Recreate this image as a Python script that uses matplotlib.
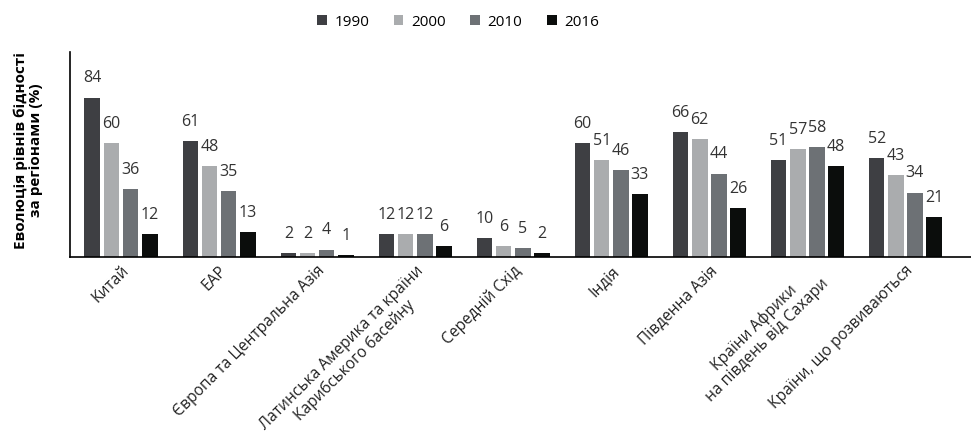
import numpy as np
import matplotlib
matplotlib.use('Agg')
import matplotlib.pyplot as plt

# Poverty rates by region (%)
regions = ['Китай', 'EAP', 'Європа та Центральна Азія',
           'Латинська Америка та країни\nКарибського басейну',
           'Середній Схід', 'Індія', 'Південна Азія',
           'Країни Африки\nна південь від Сахари',
           'Країни, що розвиваються']
years = ['1990', '2000', '2010', '2016']
v1990 = [84, 61, 2, 12, 10, 60, 66, 51, 52]
v2000 = [60, 48, 2, 12, 6, 51, 62, 57, 43]
v2010 = [36, 35, 4, 12, 5, 46, 44, 58, 34]
v2016 = [12, 13, 1, 6, 2, 33, 26, 48, 21]

COLORS = ['#3e3f43', '#aaacae', '#6d7175', '#0b0d0c']
FONT = ['Open Sans', 'DejaVu Sans']

plt.rcParams['font.family'] = FONT

fig = plt.figure(figsize=(9.71, 4.48), dpi=100)
ax = fig.add_axes([70 / 971., 0.426, 1 - 70 / 971., 0.458])

x = np.arange(len(regions))
step = 0.195
width = 0.16
series = [v1990, v2000, v2010, v2016]
for i, (vals, col, yr) in enumerate(zip(series, COLORS, years)):
    pos = x + (i - 1.5) * step
    ax.bar(pos, vals, width, color=col, label=yr)
    for px, v in zip(pos, vals):
        ax.annotate(str(v), (px, v), xytext=(0, 8), textcoords='offset points',
                    ha='center', va='bottom', fontsize=11.5, color='#333333')

ax.set_xlim(-0.52, 8.67)
ax.set_ylim(0, 108)
ax.set_yticks([])
ax.set_xticks(x)
ax.set_xticklabels(regions, rotation=45, ha='right', rotation_mode='anchor',
                   fontsize=11.2, multialignment='center', color='#222222')
ax.tick_params(axis='x', length=0, pad=4)
for s in ('top', 'right'):
    ax.spines[s].set_visible(False)
ax.spines['left'].set_linewidth(1.2)
ax.spines['bottom'].set_linewidth(1.2)

fig.text(28 / 971., 1 - 150 / 448., 'Еволюція рівнів бідності\nза регіонами (%)',
         rotation=90, ha='center', va='center', fontsize=11, fontweight='bold',
         multialignment='center', linespacing=1.1)

fig.legend(loc='center', bbox_to_anchor=(458 / 971., 1 - 22 / 448.), ncol=4,
           frameon=False, fontsize=11, handlelength=0.65, handleheight=0.65,
           handletextpad=0.5, columnspacing=1.6)

fig.savefig('out.png', dpi=100)
